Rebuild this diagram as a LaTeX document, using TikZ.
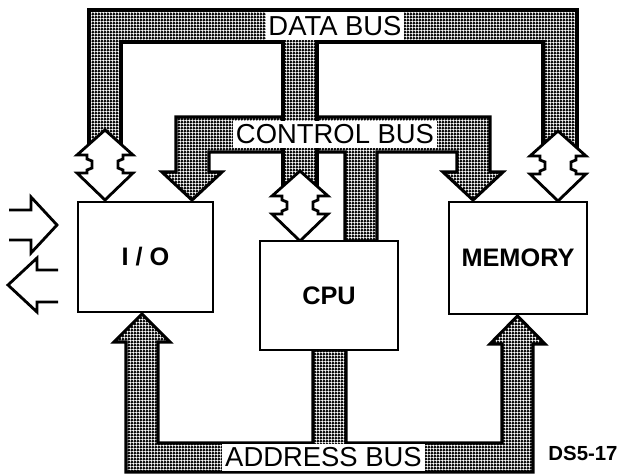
\documentclass[tikz,border=0pt]{standalone}
\usepackage{fontspec}
\setmainfont{Liberation Sans}
\usetikzlibrary{patterns}

% dark mesh used inside the buses
\pgfdeclarepatterninherentlycolored{busmesh}{\pgfpointorigin}{\pgfqpoint{2.4pt}{2.4pt}}{\pgfqpoint{2.4pt}{2.4pt}}{%
  \pgfsetfillcolor{black}
  \pgfpathrectangle{\pgfpointorigin}{\pgfqpoint{2.4pt}{2.4pt}}\pgfusepath{fill}
  \pgfsetfillcolor{white}
  \pgfpathcircle{\pgfqpoint{1.2pt}{1.2pt}}{1.1pt}\pgfusepath{fill}}

% two-way arrow, top tip at #1
\newcommand{\dualarrow}[1]{%
  \draw[dualarr, shift={(#1)}] (0,0) -- (28,25) -- (18,25) -- (18,29) -- (13,31) -- (13,38)
    -- (18,40) -- (18,43) -- (28,43) -- (0,70) -- (-28,43) -- (-18,43) -- (-18,40)
    -- (-13,38) -- (-13,31) -- (-18,29) -- (-18,25) -- (-28,25) -- cycle;}

\begin{document}
\begin{tikzpicture}[
    x=0.025cm, y=-0.025cm,
    every node/.style={font=\fontsize{19.5}{21}\selectfont},
    bus/.style={draw=black, line width=2.2pt, pattern=busmesh, line join=miter},
    dualarr/.style={draw=black, fill=white, line width=2pt, line join=miter},
    buslabel/.style={fill=white, inner xsep=2pt, inner ysep=0pt, minimum height=0.68cm},
    unit/.style={draw=black, fill=white, line width=1.9pt, inner sep=0pt,
                 font=\bfseries\fontsize{18}{20}\selectfont},
    port/.style={draw=black, line width=2pt, line join=miter},
  ]
    \useasboundingbox (0,0) rectangle (621,474);

    % control bus
    \draw[bus] (192,200) -- (162,172) -- (176,172) -- (176,117) -- (490,117) -- (490,172)
      -- (503,172) -- (473,200) -- (443,172) -- (457,172) -- (457,152) -- (377,152)
      -- (377,241) -- (345,241) -- (345,152) -- (209,152) -- (209,172) -- (222,172) -- cycle;

    % data bus
    \draw[bus] (89,150) -- (89,10) -- (577,10) -- (577,150) -- (543,150) -- (543,42)
      -- (317,42) -- (317,190) -- (283,190) -- (283,42) -- (121,42) -- (121,150) -- cycle;

    % address bus
    \draw[bus] (142,314) -- (170,342) -- (158,342) -- (158,443) -- (313,443) -- (313,350)
      -- (346,350) -- (346,443) -- (502,443) -- (502,344) -- (490,344) -- (517.5,316)
      -- (545,344) -- (533,344) -- (533,472) -- (126,472) -- (126,342) -- (114,342) -- cycle;

    % two-way data ports
    \dualarrow{105,130}
    \dualarrow{300,171}
    \dualarrow{558,131}

    % bus names
    \node[buslabel] (databus) at (335,26) {DATA BUS};
    \node[buslabel] (ctrlbus) at (335,134.5) {CONTROL BUS};
    \node[buslabel] (addrbus) at (323.5,457.5) {ADDRESS BUS};

    % units
    \node[unit, minimum width=3.375cm, minimum height=2.75cm] (io) at (145.5,257) {I / O};
    \node[unit, minimum width=3.45cm, minimum height=2.725cm] (cpu) at (329,295.5) {CPU};
    \node[unit, minimum width=3.45cm, minimum height=2.8cm] (mem) at (518,258) {MEMORY};

    % outside world in and out
    \draw[port] (9,210) -- (31,210) -- (31,197) -- (57,225) -- (31,253) -- (31,240) -- (9,240);
    \draw[port] (58,270) -- (37,270) -- (37,258) -- (8,285) -- (37,312) -- (37,302) -- (58,302);

    \node[font=\bfseries\fontsize{14.5}{16}\selectfont] (tag) at (583,453) {DS5-17};
\end{tikzpicture}
\end{document}
